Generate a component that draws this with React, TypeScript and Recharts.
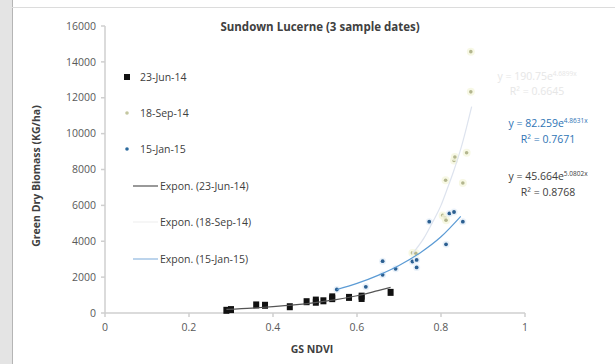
import React from "react";
import { ScatterChart, Scatter, XAxis, YAxis } from "recharts";

// NDVI vs biomass
const jun14 = [
  { x: 0.289, y: 150 }, { x: 0.3, y: 190 }, { x: 0.36, y: 450 }, { x: 0.381, y: 430 },
  { x: 0.44, y: 350 }, { x: 0.48, y: 630 }, { x: 0.502, y: 720 }, { x: 0.502, y: 600 },
  { x: 0.52, y: 680 }, { x: 0.541, y: 900 }, { x: 0.541, y: 800 }, { x: 0.581, y: 870 },
  { x: 0.611, y: 940 }, { x: 0.611, y: 810 }, { x: 0.68, y: 1150 },
];
const sep14 = [
  { x: 0.732, y: 3350 }, { x: 0.74, y: 3330 }, { x: 0.804, y: 5440 }, { x: 0.81, y: 5300 },
  { x: 0.812, y: 5170 }, { x: 0.811, y: 7400 }, { x: 0.831, y: 8500 }, { x: 0.833, y: 8700 },
  { x: 0.852, y: 7250 }, { x: 0.861, y: 8930 }, { x: 0.871, y: 12330 }, { x: 0.871, y: 14570 },
];
const jan15 = [
  { x: 0.552, y: 1310 }, { x: 0.621, y: 1460 }, { x: 0.661, y: 2890 }, { x: 0.661, y: 2130 },
  { x: 0.692, y: 2460 }, { x: 0.732, y: 2870 }, { x: 0.742, y: 2960 }, { x: 0.742, y: 2540 },
  { x: 0.772, y: 5090 }, { x: 0.812, y: 3830 }, { x: 0.82, y: 5550 }, { x: 0.831, y: 5630 },
  { x: 0.852, y: 5090 },
];

// trend curves, points
const trendJun14 = [
  { x: 0.289, y: 200 }, { x: 0.35, y: 270 }, { x: 0.4, y: 350 }, { x: 0.45, y: 450 },
  { x: 0.5, y: 580 }, { x: 0.55, y: 750 }, { x: 0.6, y: 960 }, { x: 0.65, y: 1250 }, { x: 0.68, y: 1430 },
];
const trendSep14 = [
  { x: 0.732, y: 3300 }, { x: 0.76, y: 4200 }, { x: 0.782, y: 5150 }, { x: 0.8, y: 6000 },
  { x: 0.813, y: 6800 }, { x: 0.83, y: 7900 }, { x: 0.849, y: 9300 }, { x: 0.873, y: 11500 },
];
const trendJan15 = [
  { x: 0.552, y: 1310 }, { x: 0.6, y: 1650 }, { x: 0.65, y: 2100 }, { x: 0.7, y: 2650 },
  { x: 0.75, y: 3350 }, { x: 0.8, y: 4250 }, { x: 0.847, y: 5390 },
];

const xTicks = [0, 0.2, 0.4, 0.6, 0.8, 1];
const yTicks = [0, 2000, 4000, 6000, 8000, 10000, 12000, 14000, 16000];

const legendLabels = [
  "23-Jun-14", "18-Sep-14", "15-Jan-15",
  "Expon. (23-Jun-14)", "Expon. (18-Sep-14)", "Expon. (15-Jan-15)",
];

const FONT = "'Open Sans', 'DejaVu Sans', sans-serif";

const Square = (p: any) => (
  <rect x={p.cx - 3} y={p.cy - 3.5} width={6} height={7} fill="#111" />
);
const GreenDot = (p: any) => (
  <g>
    <circle cx={p.cx} cy={p.cy} r={4} fill="#f5f6df" opacity={0.8} />
    <circle cx={p.cx} cy={p.cy} r={1.8} fill="#b3b68e" />
  </g>
);
const BlueDot = (p: any) => (
  <g>
    <circle cx={p.cx} cy={p.cy} r={3.5} fill="#e4eef8" opacity={0.8} />
    <circle cx={p.cx} cy={p.cy} r={1.9} fill="#2b5f91" />
  </g>
);
const NoDot = () => <g />;

const Overlay = () => {
  const rowY = [77, 113, 149, 186, 222, 259];
  return (
    <svg width={615} height={364} style={{ position: "absolute", left: 0, top: 0, pointerEvents: "none" }}>
      {/* frame */}
      <rect x={0} y={0} width={12} height={364} fill="#e4e4e4" />
      <line x1={12.5} y1={0} x2={12.5} y2={364} stroke="#b5b5b5" />
      <line x1={12} y1={7.5} x2={615} y2={7.5} stroke="#dcdcdc" />

      <text x={320} y={31} textAnchor="middle" fontFamily={FONT} fontSize={11.5} fontWeight={700} fill="#404040">
        Sundown Lucerne (3 sample dates)
      </text>
      <text x={312} y={353} textAnchor="middle" fontFamily={FONT} fontSize={10.5} fontWeight={700} fill="#404040">
        GS NDVI
      </text>
      <text transform="translate(40,176) rotate(-90)" textAnchor="middle" fontFamily={FONT} fontSize={10.5} fontWeight={700} fill="#404040">
        Green Dry Biomass (KG/ha)
      </text>

      {/* legend */}
      <rect x={124} y={rowY[0] - 3} width={6} height={6} fill="#111" />
      <circle cx={127} cy={rowY[1]} r={1.8} fill="#c4c7a0" />
      <circle cx={127} cy={rowY[2]} r={1.8} fill="#2b6a9e" />
      <line x1={133} y1={rowY[3]} x2={158} y2={rowY[3]} stroke="#555" strokeWidth={1.2} />
      <line x1={133} y1={rowY[4]} x2={158} y2={rowY[4]} stroke="#f0f0f0" strokeWidth={1.2} />
      <line x1={133} y1={rowY[5]} x2={158} y2={rowY[5]} stroke="#8fb8e0" strokeWidth={1.2} />
      {legendLabels.map((t, i) => (
        <text key={t} x={i < 3 ? 140 : 160} y={rowY[i] + 4} fontFamily={FONT} fontSize={10.5} fill="#404040">
          {t}
        </text>
      ))}

      {/* equations */}
      <g fontFamily={FONT} fontSize={10.5} textAnchor="middle">
        <text x={537} y={80} fill="#e6e6e6">
          y = 190.75e<tspan dy={-4} fontSize={6.5}>4.6899x</tspan>
        </text>
        <text x={537} y={95} fill="#e6e6e6">R² = 0.6645</text>
        <text x={548} y={127} fill="#2e74b5">
          y = 82.259e<tspan dy={-4} fontSize={6.5}>4.8631x</tspan>
        </text>
        <text x={548} y={143} fill="#2e74b5">R² = 0.7671</text>
        <text x={548} y={180} fill="#404040">
          y = 45.664e<tspan dy={-4} fontSize={6.5}>5.0802x</tspan>
        </text>
        <text x={548} y={196} fill="#404040">R² = 0.8768</text>
      </g>
    </svg>
  );
};

export default function App() {
  const tick = { fill: "#595959", fontSize: 10.5, fontFamily: FONT };
  return (
    <div style={{ position: "absolute", left: 0, top: 0, width: 615, height: 364, background: "#fff" }}>
      <ScatterChart width={615} height={364} margin={{ top: 26, right: 90, bottom: 21, left: 0 }}>
        <XAxis
          type="number"
          dataKey="x"
          domain={[0, 1]}
          ticks={xTicks}
          height={30}
          tick={tick}
          tickSize={4}
          tickMargin={7}
          stroke="#cfcfcf"
          strokeWidth={1.5}
        />
        <YAxis
          type="number"
          dataKey="y"
          domain={[0, 16000]}
          ticks={yTicks}
          width={105}
          tick={tick}
          tickSize={4}
          tickMargin={5}
          stroke="#cfcfcf"
          strokeWidth={1.5}
        />
        <Scatter data={sep14} shape={GreenDot} isAnimationActive={false} />
        <Scatter data={jan15} shape={BlueDot} isAnimationActive={false} />
        <Scatter data={jun14} shape={Square} isAnimationActive={false} />
        <Scatter data={trendJun14} shape={NoDot} line={{ stroke: "#555", strokeWidth: 1.2 }} lineJointType="monotoneX" lineType="joint" isAnimationActive={false} />
        <Scatter data={trendSep14} shape={NoDot} line={{ stroke: "#dde3ee", strokeWidth: 1.2 }} lineJointType="monotoneX" lineType="joint" isAnimationActive={false} />
        <Scatter data={trendJan15} shape={NoDot} line={{ stroke: "#5b9bd5", strokeWidth: 1.2 }} lineJointType="monotoneX" lineType="joint" isAnimationActive={false} />
      </ScatterChart>
      <Overlay />
    </div>
  );
}
